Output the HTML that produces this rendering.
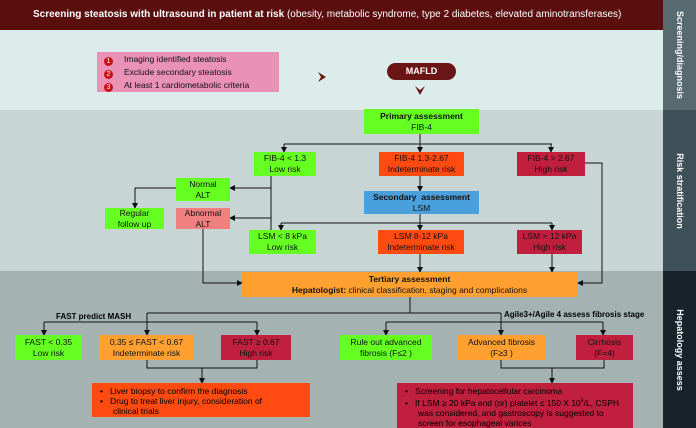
<!DOCTYPE html>
<html><head><meta charset="utf-8"><style>
*{margin:0;padding:0;box-sizing:border-box}
body{width:696px;height:428px;position:relative;overflow:hidden;font-family:"Liberation Sans",Arial,sans-serif;background:#dcecea}
.a{position:absolute}
.b{position:absolute;display:flex;flex-direction:column;align-items:center;justify-content:center;text-align:center;font-size:8.5px;line-height:11px;color:#111}
.g{background:#66ff22}.o{background:#ff4a12}.r{background:#c0203e}.y{background:#ffa030}
.side{position:absolute;left:663px;width:33px;color:#fff;font-weight:bold;font-size:9px}
.side span{position:absolute;left:50%;top:50%;transform:translate(-50%,-50%) rotate(90deg);white-space:nowrap}
ul{list-style:none}
.n{display:inline-block;width:9px;height:9px;border-radius:50%;background:#c81010;color:#fff;font-size:7px;line-height:9px;text-align:center;margin-right:11px;vertical-align:-1px}
</style></head><body>
<div class="a" style="left:0;top:0;width:663px;height:30px;background:#5a0e0e;color:#fff;font-size:10px;line-height:30px;padding-left:33px"><b>Screening steatosis with ultrasound in patient at risk</b> (obesity, metabolic syndrome, type 2 diabetes, elevated aminotransferases)</div>
<div class="a" style="left:0;top:30px;width:663px;height:80px;background:#dcecea"></div>
<div class="a" style="left:0;top:110px;width:663px;height:161px;background:#c8d5d5"></div>
<div class="a" style="left:0;top:271px;width:663px;height:157px;background:#a5b2b2"></div>
<div class="side" style="top:0;height:110px;background:#566a70"><span>Screening/diagnosis</span></div>
<div class="side" style="top:110px;height:161px;background:#3e5058"><span>Risk stratification</span></div>
<div class="side" style="top:271px;height:157px;background:#18222a"><span>Hepatology assess</span></div>

<div class="a" style="left:97px;top:52px;width:182px;height:40px;background:#ea91b6;font-size:8.5px;line-height:12.5px;padding:1px 0 0 7px;color:#111">
<div><span class="n">1</span>Imaging identified steatosis</div>
<div><span class="n">2</span>Exclude secondary steatosis</div>
<div><span class="n">3</span>At least 1 cardiometabolic criteria</div>
</div>
<div class="b" style="left:387px;top:63px;width:69px;height:17px;border-radius:9px;background:#6a1616;color:#fff;font-weight:bold;font-size:9px">MAFLD</div>

<svg class="a" style="left:0;top:0" width="663" height="428">
<defs><marker id="m" markerWidth="6" markerHeight="6" refX="5" refY="3" orient="auto"><path d="M0,0 L6,3 L0,6 z" fill="#111"/></marker></defs>
<path d="M318,72 L326,77 L318,82 L321,77z" fill="#6a1616"/>
<path d="M415,86 L420,90 L425,86 L420,95z" fill="#6a1616"/>
<g stroke="#111" stroke-width="1" fill="none">
<path d="M420,134 V144 M284,144 H552"/>
<path d="M284,144 V152" marker-end="url(#m)"/><path d="M420,144 V152" marker-end="url(#m)"/><path d="M551,144 V152" marker-end="url(#m)"/>
<path d="M585,163 H602 V283 H578" marker-end="url(#m)"/>
<path d="M271,176 V230"/>
<path d="M271,188 H230" marker-end="url(#m)"/><path d="M271,218 H230" marker-end="url(#m)"/>
<path d="M176,188 H135 V208" marker-end="url(#m)"/>
<path d="M420,176 V191" marker-end="url(#m)"/>
<path d="M420,214 V223 M281,223 H552"/>
<path d="M281,223 V230" marker-end="url(#m)"/><path d="M420,223 V230" marker-end="url(#m)"/><path d="M552,223 V230" marker-end="url(#m)"/>
<path d="M203,229 V283 H242" marker-end="url(#m)"/>
<path d="M420,254 V272" marker-end="url(#m)"/><path d="M552,254 V272" marker-end="url(#m)"/>
<path d="M410,297 V313 H147 M410,313 H501 M147,313 V322 M44,322 H257 M386,322 H603"/>
<path d="M44,322 V335" marker-end="url(#m)"/><path d="M147,322 V335" marker-end="url(#m)"/><path d="M257,322 V335" marker-end="url(#m)"/>
<path d="M386,322 V335" marker-end="url(#m)"/><path d="M501,313 V335" marker-end="url(#m)"/><path d="M603,322 V335" marker-end="url(#m)"/>
<path d="M147,360 V368 H257 V360 M202,368 V383" marker-end="url(#m)"/>
<path d="M501,360 V368 H604 V360 M552,368 V383" marker-end="url(#m)"/>
</g></svg>

<div class="b g" style="left:364px;top:109px;width:115px;height:25px"><b>Primary assessment</b>FIB-4</div>
<div class="b g" style="left:254px;top:152px;width:62px;height:24px">FIB-4 &lt; 1.3<br>Low risk</div>
<div class="b o" style="left:379px;top:152px;width:85px;height:24px">FIB-4 1.3-2.67<br>Indeterminate risk</div>
<div class="b r" style="left:517px;top:152px;width:68px;height:24px">FIB-4 &gt; 2.67<br>High risk</div>
<div class="b g" style="left:176px;top:178px;width:54px;height:23px">Normal<br>ALT</div>
<div class="b g" style="left:105px;top:208px;width:59px;height:21px">Regular<br>follow up</div>
<div class="b" style="left:176px;top:208px;width:54px;height:21px;background:#f08080">Abnormal<br>ALT</div>
<div class="b" style="left:364px;top:191px;width:115px;height:23px;background:#4aa0dc"><b>Secondary &nbsp;assessment</b>LSM</div>
<div class="b g" style="left:249px;top:230px;width:67px;height:24px">LSM &lt; 8 kPa<br>Low risk</div>
<div class="b o" style="left:378px;top:230px;width:86px;height:24px">LSM 8-12 kPa<br>Indeterminate risk</div>
<div class="b r" style="left:517px;top:230px;width:65px;height:24px">LSM &gt; 12 kPa<br>High risk</div>
<div class="b y" style="left:242px;top:272px;width:335px;height:25px"><b>Tertiary assessment</b><span><b>Hepatologist:</b> clinical classification, staging and complications</span></div>
<div class="a" style="left:56px;top:312px;font-size:8px;font-weight:bold">FAST predict MASH</div>
<div class="a" style="left:504px;top:310px;font-size:8px;font-weight:bold">Agile3+/Agile 4 assess fibrosis stage</div>
<div class="b g" style="left:15px;top:335px;width:67px;height:25px">FAST &lt; 0.35<br>Low risk</div>
<div class="b y" style="left:99px;top:335px;width:95px;height:25px">0.35 ≤ FAST &lt; 0.67<br>Indeterminate risk</div>
<div class="b r" style="left:221px;top:335px;width:70px;height:25px">FAST ≥ 0.67<br>High risk</div>
<div class="b g" style="left:340px;top:335px;width:92px;height:25px">Rule out advanced<br>fibrosis (F≤2 )</div>
<div class="b y" style="left:458px;top:335px;width:87px;height:25px">Advanced fibrosis<br>(F≥3 )</div>
<div class="b r" style="left:576px;top:335px;width:57px;height:25px">Cirrhosis<br>(F=4)</div>
<div class="a o" style="left:92px;top:383px;width:218px;height:34px;font-size:8.5px;line-height:10px;padding:3px 24px 0 8px">
<ul><li>•&nbsp;&nbsp;&nbsp;Liver biopsy to confirm the diagnosis</li><li style="padding-left:13px;text-indent:-13px">•&nbsp;&nbsp;&nbsp;Drug to treat liver injury, consideration of clinical trials</li></ul></div>
<div class="a r" style="left:397px;top:383px;width:236px;height:45px;font-size:8.5px;line-height:10px;padding:3px 14px 0 8px">
<ul><li>•&nbsp;&nbsp;&nbsp;Screening for hepatocellular carcinoma</li><li style="padding-left:13px;text-indent:-13px">•&nbsp;&nbsp;&nbsp;If LSM ≥ 20 kPa and (or) platelet ≤ 150 X 10<sup style="font-size:5px">9</sup>/L, CSPH was considered, and gastroscopy is suggested to screen for esophageal varices</li></ul></div>
</body></html>
